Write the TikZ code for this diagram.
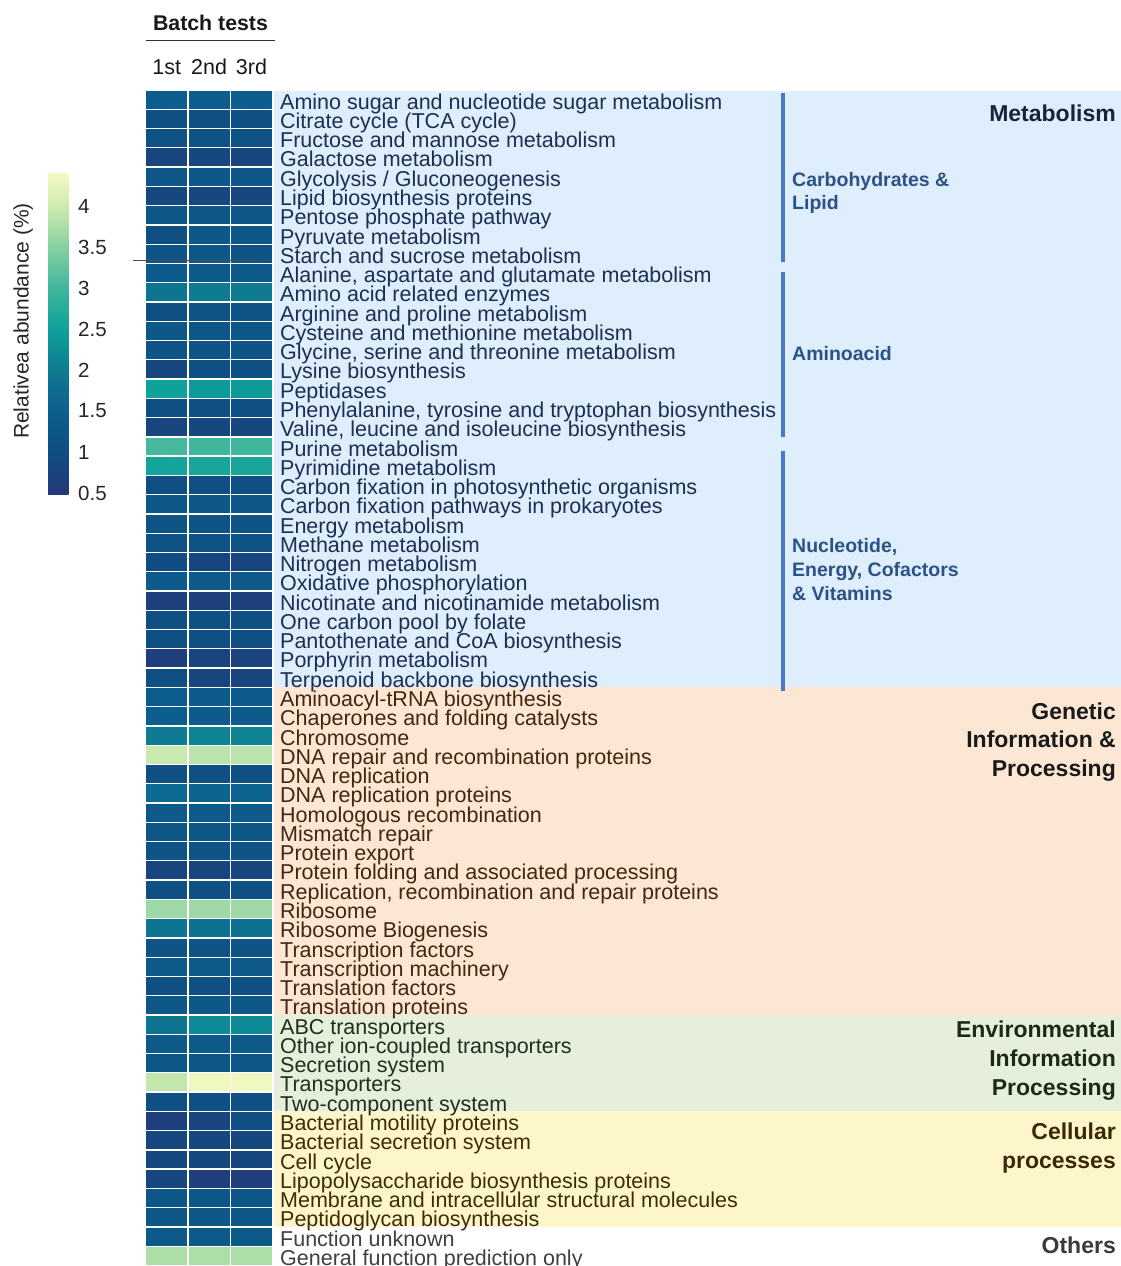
\documentclass[tikz,border=0pt]{standalone}
\usepackage{fontspec}
\setmainfont{Liberation Sans}
\definecolor{cm0}{HTML}{263878}
\definecolor{cm1}{HTML}{0F4D82}
\definecolor{cm2}{HTML}{0C5E8E}
\definecolor{cm3}{HTML}{0E7B92}
\definecolor{cm4}{HTML}{0EA29B}
\definecolor{cm5}{HTML}{40B69C}
\definecolor{cm6}{HTML}{88D0A2}
\definecolor{cm7}{HTML}{D0ECAF}
\definecolor{cm8}{HTML}{FFFCC8}
\definecolor{bandM}{HTML}{DFEEFC}
\definecolor{bandG}{HTML}{FCE7D4}
\definecolor{bandE}{HTML}{E5EFDB}
\definecolor{bandC}{HTML}{FDF6CA}
\definecolor{metc}{HTML}{1C2E52}
\definecolor{genc}{HTML}{43260F}
\definecolor{envc}{HTML}{1F301F}
\definecolor{celc}{HTML}{3F2B05}
\definecolor{othc}{HTML}{404040}
\definecolor{subc}{HTML}{2B5285}
\definecolor{brkc}{HTML}{4779C5}
\definecolor{gM}{HTML}{17253A}
\definecolor{gG}{HTML}{1A1A1A}
\definecolor{gE}{HTML}{1E2A18}
\definecolor{gC}{HTML}{3A2808}
\definecolor{gO}{HTML}{3A3A3A}
\definecolor{rulec}{HTML}{333333}
\pgfdeclareverticalshading{cbar}{100bp}{color(0bp)=(cm0); color(25bp)=(cm0); color(31.45bp)=(cm1); color(37.9bp)=(cm2); color(44.35bp)=(cm3); color(50.8bp)=(cm4); color(57.25bp)=(cm5); color(63.7bp)=(cm6); color(70.15bp)=(cm7); color(76.6bp)=(cm8); color(100bp)=(cm8)}
\def\hrH{19.27}
\def\hrOff{9.5}
\newcommand\hmcol[1]{%
  \pgfmathsetmacro\hmv{min(max(#1,0.5),4.49)}%
  \pgfmathtruncatemacro\hmi{floor((\hmv-0.5)/0.5)}%
  \pgfmathtruncatemacro\hmf{round(((\hmv-0.5)-0.5*\hmi)*200)}%
  \pgfmathtruncatemacro\hmj{\hmi+1}%
  \colorlet{hc}{cm\hmj!\hmf!cm\hmi}%
}
\newcommand\hrow[6]{%
  \pgfmathsetmacro\hrYt{90+(#1-1)*\hrH}%
  \pgfmathsetmacro\hrYbl{\hrYt+\hrH/2+\hrOff}%
  \hmcol{#2}\filldraw[cellst, fill=hc] (145.5,\hrYt) rectangle ++(42.4,\hrH);
  \hmcol{#3}\filldraw[cellst, fill=hc] (187.9,\hrYt) rectangle ++(42.4,\hrH);
  \hmcol{#4}\filldraw[cellst, fill=hc] (230.3,\hrYt) rectangle ++(42.4,\hrH);
  \node[lab, text=#6] (lab#1) at (280,\hrYbl) {#5};
}
\begin{document}
\begin{tikzpicture}[x=1pt,y=-1pt,
  cellst/.style={draw=white, line width=1.3pt},
  lab/.style={anchor=base west, inner sep=0pt, font=\fontsize{21.5}{22}\selectfont},
  grp/.style={anchor=base east, inner sep=0pt, font=\bfseries\fontsize{23}{28}\selectfont},
  sub/.style={anchor=base west, inner sep=0pt, text=subc, font=\bfseries\fontsize{19.5}{23}\selectfont},
  brk/.style={draw=brkc, line width=3.2pt},
  tick/.style={anchor=west, inner sep=0pt, font=\fontsize{20.5}{21}\selectfont, text=black!85},
  colhd/.style={anchor=base, inner sep=0pt, font=\fontsize{21.5}{22}\selectfont, text=black!90}]
\useasboundingbox (0,0) rectangle (1121,1266);
\fill[white] (0,0) rectangle (1121,1266);
% group bands
\fill[bandM] (274,91) rectangle (1121,687.4);
\fill[bandG] (274,687.4) rectangle (1121,1015);
\fill[bandE] (274,1015) rectangle (1121,1111.3);
\fill[bandC] (274,1111.3) rectangle (1121,1227);
% header
\node[anchor=base, inner sep=0pt, font=\bfseries\fontsize{21.3}{22}\selectfont, text=black!90] (batch) at (210.5,30) {Batch tests};
\coordinate (rl) at (145.7,40.5);
\coordinate (rr) at (275,40.5);
\draw[line width=1.3pt, draw=rulec] (rl) -- (rr);
\node[colhd] (h1) at (166.7,74) {1st};
\node[colhd] (h2) at (209.1,74) {2nd};
\node[colhd] (h3) at (251.5,74) {3rd};
% heatmap rows
\hrow{1}{1.45}{1.45}{1.45}{Amino sugar and nucleotide sugar metabolism}{metc}
\hrow{2}{1.1}{1.1}{1.1}{Citrate cycle (TCA cycle)}{metc}
\hrow{3}{1.15}{1.15}{1.15}{Fructose and mannose metabolism}{metc}
\hrow{4}{0.8}{0.85}{0.8}{Galactose metabolism}{metc}
\hrow{5}{1.3}{1.3}{1.3}{Glycolysis / Gluconeogenesis}{metc}
\hrow{6}{0.85}{0.85}{0.85}{Lipid biosynthesis proteins}{metc}
\hrow{7}{1.25}{1.25}{1.25}{Pentose phosphate pathway}{metc}
\hrow{8}{1.1}{1.3}{1.3}{Pyruvate metabolism}{metc}
\hrow{9}{1.2}{1.3}{1.2}{Starch and sucrose metabolism}{metc}
\hrow{10}{1.4}{1.35}{1.35}{Alanine, aspartate and glutamate metabolism}{metc}
\hrow{11}{1.9}{2.0}{2.0}{Amino acid related enzymes}{metc}
\hrow{12}{1.1}{1.2}{1.2}{Arginine and proline metabolism}{metc}
\hrow{13}{1.3}{1.25}{1.25}{Cysteine and methionine metabolism}{metc}
\hrow{14}{1.2}{1.2}{1.2}{Glycine, serine and threonine metabolism}{metc}
\hrow{15}{0.85}{1.1}{1.1}{Lysine biosynthesis}{metc}
\hrow{16}{2.5}{2.4}{2.4}{Peptidases}{metc}
\hrow{17}{1.1}{1.1}{1.1}{Phenylalanine, tyrosine and tryptophan biosynthesis}{metc}
\hrow{18}{0.8}{0.85}{0.85}{Valine, leucine and isoleucine biosynthesis}{metc}
\hrow{19}{3.05}{3.0}{3.0}{Purine metabolism}{metc}
\hrow{20}{2.55}{2.6}{2.6}{Pyrimidine metabolism}{metc}
\hrow{21}{1.05}{1.05}{1.05}{Carbon fixation in photosynthetic organisms}{metc}
\hrow{22}{1.3}{1.3}{1.3}{Carbon fixation pathways in prokaryotes}{metc}
\hrow{23}{1.2}{1.2}{1.2}{Energy metabolism}{metc}
\hrow{24}{1.15}{1.15}{1.15}{Methane metabolism}{metc}
\hrow{25}{1.0}{0.8}{0.8}{Nitrogen metabolism}{metc}
\hrow{26}{1.4}{1.35}{1.35}{Oxidative phosphorylation}{metc}
\hrow{27}{0.7}{0.7}{0.7}{Nicotinate and nicotinamide metabolism}{metc}
\hrow{28}{1.1}{1.1}{1.1}{One carbon pool by folate}{metc}
\hrow{29}{1.05}{1.05}{1.05}{Pantothenate and CoA biosynthesis}{metc}
\hrow{30}{0.65}{0.75}{0.75}{Porphyrin metabolism}{metc}
\hrow{31}{1.05}{0.8}{0.8}{Terpenoid backbone biosynthesis}{metc}
\hrow{32}{1.45}{1.4}{1.4}{Aminoacyl-tRNA biosynthesis}{genc}
\hrow{33}{1.5}{1.4}{1.4}{Chaperones and folding catalysts}{genc}
\hrow{34}{2.0}{2.1}{2.1}{Chromosome}{genc}
\hrow{35}{3.95}{3.85}{3.85}{DNA repair and recombination proteins}{genc}
\hrow{36}{1.1}{1.1}{1.1}{DNA replication}{genc}
\hrow{37}{1.7}{1.6}{1.6}{DNA replication proteins}{genc}
\hrow{38}{1.35}{1.35}{1.35}{Homologous recombination}{genc}
\hrow{39}{1.25}{1.25}{1.25}{Mismatch repair}{genc}
\hrow{40}{1.2}{1.2}{1.2}{Protein export}{genc}
\hrow{41}{0.8}{0.8}{0.8}{Protein folding and associated processing}{genc}
\hrow{42}{1.1}{1.1}{1.1}{Replication, recombination and repair proteins}{genc}
\hrow{43}{3.65}{3.65}{3.65}{Ribosome}{genc}
\hrow{44}{1.9}{1.85}{1.85}{Ribosome Biogenesis}{genc}
\hrow{45}{1.2}{1.2}{1.2}{Transcription factors}{genc}
\hrow{46}{1.35}{1.35}{1.35}{Transcription machinery}{genc}
\hrow{47}{1.1}{1.1}{1.1}{Translation factors}{genc}
\hrow{48}{1.3}{1.3}{1.3}{Translation proteins}{genc}
\hrow{49}{1.9}{2.2}{2.2}{ABC transporters}{envc}
\hrow{50}{1.35}{1.35}{1.35}{Other ion-coupled transporters}{envc}
\hrow{51}{1.25}{1.25}{1.25}{Secretion system}{envc}
\hrow{52}{3.9}{4.35}{4.35}{Transporters}{envc}
\hrow{53}{1.1}{1.1}{1.1}{Two-component system}{envc}
\hrow{54}{0.7}{0.8}{1.05}{Bacterial motility proteins}{celc}
\hrow{55}{0.85}{0.85}{0.9}{Bacterial secretion system}{celc}
\hrow{56}{0.85}{0.85}{0.85}{Cell cycle}{celc}
\hrow{57}{0.85}{0.65}{0.65}{Lipopolysaccharide biosynthesis proteins}{celc}
\hrow{58}{1.25}{1.25}{1.25}{Membrane and intracellular structural molecules}{celc}
\hrow{59}{1.3}{1.3}{1.3}{Peptidoglycan biosynthesis}{celc}
\hrow{60}{1.35}{1.35}{1.35}{Function unknown}{othc}
\hrow{61}{3.75}{3.75}{3.75}{General function prediction only}{othc}
% stray rule across heatmap
\coordinate (sl1) at (133,260);
\coordinate (sl2) at (263,260);
\draw[line width=1pt, draw=black!70] (sl1) -- (sl2);
% subgroup brackets
\coordinate (bA1) at (783,92.7);  \coordinate (bA2) at (783,262.3);
\coordinate (bB1) at (783,271.7); \coordinate (bB2) at (783,436.7);
\coordinate (bC1) at (783,450.7); \coordinate (bC2) at (783,691);
\draw[brk] (bA1) -- (bA2);
\draw[brk] (bB1) -- (bB2);
\draw[brk] (bC1) -- (bC2);
\node[sub] (sA1) at (792,186.5) {Carbohydrates \&};
\node[sub] (sA2) at (792,209.5) {Lipid};
\node[sub] (sB1) at (792,360) {Aminoacid};
\node[sub] (sC1) at (792,552.3) {Nucleotide,};
\node[sub] (sC2) at (792,576.3) {Energy, Cofactors};
\node[sub] (sC3) at (792,600) {\& Vitamins};
% group titles
\node[grp, text=gM] (gM1) at (1116,121) {Metabolism};
\node[grp, text=gG] (gG1) at (1116,719) {Genetic};
\node[grp, text=gG] (gG2) at (1116,747.5) {Information \&};
\node[grp, text=gG] (gG3) at (1116,776.3) {Processing};
\node[grp, text=gE] (gE1) at (1116,1037.7) {Environmental};
\node[grp, text=gE] (gE2) at (1116,1066.5) {Information};
\node[grp, text=gE] (gE3) at (1116,1095.3) {Processing};
\node[grp, text=gC] (gC1) at (1116,1139.3) {Cellular};
\node[grp, text=gC] (gC2) at (1116,1168) {processes};
\node[grp, text=gO] (gO1) at (1116,1253) {Others};
% colour bar
\shade[shading=cbar] (48,173.5) rectangle (68.5,494.5);
\node[tick] (t40) at (78,206) {4};
\node[tick] (t35) at (78,247) {3.5};
\node[tick] (t30) at (78,288) {3};
\node[tick] (t25) at (78,329) {2.5};
\node[tick] (t20) at (78,370) {2};
\node[tick] (t15) at (78,411) {1.5};
\node[tick] (t10) at (78,452) {1};
\node[tick] (t05) at (78,493) {0.5};
\node[rotate=90, anchor=base, inner sep=0pt, font=\fontsize{21}{22}\selectfont, text=black!85] (axt) at (28.5,321) {Relativea abundance (\%)};
\end{tikzpicture}
\end{document}
